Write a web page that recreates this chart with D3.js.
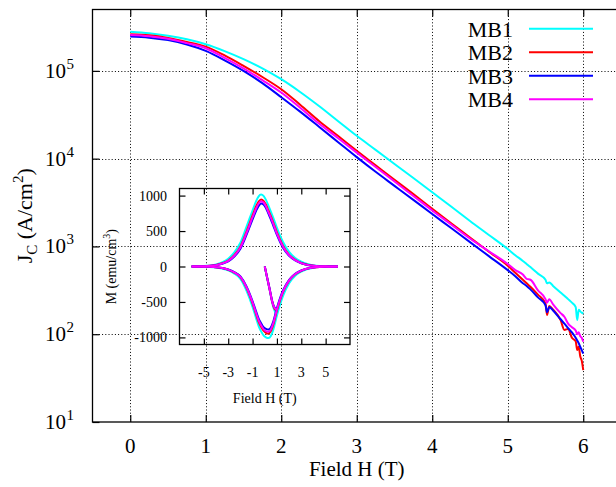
<!DOCTYPE html>
<html><head><meta charset="utf-8">
<script src="https://cdn.jsdelivr.net/npm/d3@7/dist/d3.min.js"></script>
<style>
body{margin:0;background:#fff}
svg{display:block}
text{font-family:"Liberation Serif","Times New Roman","DejaVu Serif",serif;fill:#000}
</style>
</head><body>
<div id="chart"></div>
<script>
// ---------- data ----------
const seriesNames = ["MB1", "MB2", "MB3", "MB4"];
const seriesColors = ["#00ffff", "#ff0000", "#0000ff", "#ff00ff"];

const xTicks = [0, 1, 2, 3, 4, 5, 6];
const yTickExponents = [1, 2, 3, 4, 5];

const fieldH = [0.0, 0.25, 0.5, 0.75, 1, 1.25, 1.5, 1.75, 2, 2.25, 2.5, 2.75, 3, 3.25, 3.5, 3.75, 4, 4.25, 4.5, 4.75,
  5, 5.1, 5.2, 5.25, 5.3, 5.4, 5.5, 5.52, 5.55, 5.6, 5.7, 5.75, 5.8, 5.85, 5.9, 5.92, 5.94, 5.96, 5.98, 6.0];
const jcMB1 = [279000, 268000, 251000, 229000, 201000, 168000, 136000, 107000, 80400, 57500, 39800, 26900, 18200, 12600, 8700, 6030, 4140, 2850, 1950, 1350,
  933, 794, 684, 631, 582, 490, 417, 380, 389, 355, 299, 275, 251, 229, 204, 145, 190, 182, 176, 172];
const jcMB2 = [262000, 254000, 237000, 214000, 189000, 150000, 114000, 85100, 61700, 41200, 26900, 18200, 12300, 8410, 5750, 3940, 2690, 1840, 1260, 871,
  603, 501, 417, 380, 347, 282, 224, 166, 209, 191, 145, 112, 115, 91, 83, 66, 72, 56, 50, 39];
const jcMB3 = [246000, 239000, 224000, 200000, 169000, 132000, 100000, 72400, 50100, 34300, 23100, 15500, 10400, 7080, 4900, 3390, 2340, 1620, 1120, 776,
  537, 457, 380, 355, 324, 263, 214, 178, 204, 186, 148, 132, 117, 105, 91, 85, 79, 72, 66, 60];
const jcMB4 = [256000, 248000, 232000, 207000, 181000, 141000, 107000, 78500, 56600, 38000, 25100, 17200, 11700, 8040, 5500, 3760, 2570, 1780, 1230, 881,
  631, 537, 479, 427, 417, 316, 251, 229, 251, 219, 174, 158, 132, 120, 110, 100, 105, 95, 91, 82];

// inset: magnetisation loops
const insetXTicks = [-5, -3, -1, 1, 3, 5];
const insetYTicks = [-1000, -500, 0, 500, 1000];
const loopH = [-6, -5, -4.5, -4, -3.5, -3, -2.5, -2, -1.5, -1, -0.7, -0.5, -0.3, -0.1, 0.1, 0.3, 0.5, 0.7, 1, 1.5, 2, 2.5, 3, 3.5, 4, 4.5, 5, 6];
const upperMB1 = [0, 6, 14, 28, 58, 110, 200, 335, 560, 790, 925, 990, 1015, 995, 940, 860, 775, 685, 545, 345, 205, 120, 68, 35, 16, 7, 3, 0];
const upperMB2 = [0, 4, 10, 20, 45, 85, 160, 280, 490, 720, 850, 915, 945, 925, 870, 790, 710, 620, 480, 290, 165, 95, 50, 25, 10, 4, 2, 0];
const upperMB3 = [0, 3, 8, 17, 38, 72, 140, 250, 445, 665, 790, 855, 890, 875, 825, 745, 665, 578, 445, 265, 150, 85, 45, 22, 9, 3, 1, 0];
const upperMB4 = [0, 4, 9, 19, 42, 80, 152, 268, 470, 695, 822, 888, 920, 902, 848, 768, 688, 600, 462, 278, 158, 90, 48, 23, 10, 4, 2, 0];
const lowerMB1 = [0, -3, -6, -14, -30, -55, -100, -175, -340, -570, -735, -840, -915, -970, -1000, -1010, -980, -890, -690, -415, -235, -130, -72, -36, -17, -7, -3, 0];
const lowerMB2 = [0, -2, -4, -10, -22, -45, -85, -150, -300, -520, -680, -780, -850, -905, -935, -945, -910, -820, -620, -360, -200, -110, -60, -30, -14, -6, -3, 0];
const lowerMB3 = [0, -2, -4, -9, -20, -42, -80, -140, -280, -490, -640, -735, -800, -855, -880, -890, -860, -775, -585, -338, -188, -103, -56, -28, -13, -5, -2, 0];
const lowerMB4 = [0, -2, -4, -10, -21, -44, -83, -146, -292, -507, -663, -760, -829, -882, -912, -921, -887, -800, -605, -351, -195, -107, -58, -29, -14, -6, -3, 0];
const virginH = [0, 0.2, 0.4, 0.6, 0.75, 0.9, 1.0];
const virginMB1 = [0, -165, -330, -500, -600, -660, -690];
const virginMB2 = [0, -160, -320, -490, -575, -615, -620];
const virginMB3 = [0, -158, -315, -480, -560, -590, -585];
const virginMB4 = [0, -160, -320, -485, -565, -600, -605];

const jcSeries = [jcMB1, jcMB2, jcMB3, jcMB4];
const upperSeries = [upperMB1, upperMB2, upperMB3, upperMB4];
const lowerSeries = [lowerMB1, lowerMB2, lowerMB3, lowerMB4];
const virginSeries = [virginMB1, virginMB2, virginMB3, virginMB4];

// ---------- layout ----------
const W = 616, H = 487;
const P = {left: 92.5, right: 621, top: 9.5, bottom: 422};
const I = {left: 179.5, right: 350, top: 188.5, bottom: 344.5};
const FONT = 21, IFONT = 14;

const svg = d3.select("#chart").append("svg").attr("width", W).attr("height", H)
  .attr("font-family", "Liberation Serif, Times New Roman, serif");

const x = d3.scaleLinear().domain([-0.5, 6.5]).range([P.left, P.right]);
const y = d3.scaleLog().domain([10, 5e5]).range([P.bottom, P.top]);
const yTicks = yTickExponents.map(e => Math.pow(10, e));

// grid
const grid = svg.append("g").attr("stroke", "#000").attr("stroke-width", 1).attr("stroke-dasharray", "1,2.2");
grid.selectAll("line.v").data(xTicks).join("line")
  .attr("x1", d => Math.round(x(d)) + 0.5).attr("x2", d => Math.round(x(d)) + 0.5)
  .attr("y1", P.top).attr("y2", P.bottom);
grid.selectAll("line.h").data(yTicks.filter(d => d > 10)).join("line")
  .attr("y1", d => Math.round(y(d)) + 0.5).attr("y2", d => Math.round(y(d)) + 0.5)
  .attr("x1", P.left).attr("x2", P.right);

// axes (inward ticks, mirrored)
function styleAxis(g) {
  g.select(".domain").remove();
  g.selectAll(".tick line").attr("stroke", "#000").attr("stroke-width", 1.2);
  g.selectAll(".tick text").remove();
}
svg.append("g").attr("transform", `translate(0,${P.bottom})`)
  .call(d3.axisBottom(x).tickValues(xTicks).tickSize(-7)).call(styleAxis);
svg.append("g").attr("transform", `translate(0,${P.top})`)
  .call(d3.axisTop(x).tickValues(xTicks).tickSize(-7)).call(styleAxis);
svg.append("g").attr("transform", `translate(${P.left},0)`)
  .call(d3.axisLeft(y).tickValues(yTicks).tickSize(-7)).call(styleAxis);

// x tick labels
svg.append("g").selectAll("text").data(xTicks).join("text")
  .attr("x", d => x(d)).attr("y", 453).attr("text-anchor", "middle")
  .attr("font-size", FONT).text(d => d);
// y tick labels 10^n : base "10" ends at x=66, exponent follows
const ylg = svg.append("g");
ylg.selectAll("text.base").data(yTickExponents).join("text").attr("class", "base")
  .attr("x", 66).attr("y", d => y(Math.pow(10, d)) + 7).attr("text-anchor", "end")
  .attr("font-size", FONT).text("10");
ylg.selectAll("text.exp").data(yTickExponents).join("text").attr("class", "exp")
  .attr("x", 66.5).attr("y", d => y(Math.pow(10, d)) - 2).attr("text-anchor", "start")
  .attr("font-size", 15).text(d => d);

// axis titles
svg.append("text").attr("x", (P.left + P.right) / 2).attr("y", 476).attr("text-anchor", "middle")
  .attr("font-size", FONT).text("Field H (T)");
const yt = svg.append("text").attr("transform", `translate(32,${(P.top + P.bottom) / 2}) rotate(-90)`)
  .attr("font-size", FONT + 1);
yt.append("tspan").text("J");
yt.append("tspan").attr("dy", 5).attr("font-size", 15).text("C");
yt.append("tspan").attr("dy", -5).text(" (A/cm");
yt.append("tspan").attr("dy", -9).attr("font-size", 15).text("2");
yt.append("tspan").attr("dy", 9).text(")");
{
  const w = yt.node().getBBox().width;
  yt.attr("x", -w / 2);
}

// main curves
svg.append("clipPath").attr("id", "mainclip").append("rect")
  .attr("x", P.left).attr("y", P.top).attr("width", P.right - P.left).attr("height", P.bottom - P.top);
const line = d3.line().x((d, i) => x(fieldH[i])).y(d => y(d)).curve(d3.curveMonotoneX);
svg.append("g").attr("clip-path", "url(#mainclip)").selectAll("path").data(jcSeries).join("path")
  .attr("fill", "none").attr("stroke", (d, i) => seriesColors[i]).attr("stroke-width", 2)
  .attr("stroke-linejoin", "round").attr("d", line);

// frame
svg.append("rect").attr("x", P.left).attr("y", P.top).attr("width", P.right - P.left).attr("height", P.bottom - P.top)
  .attr("fill", "none").attr("stroke", "#000").attr("stroke-width", 1.3);

// legend
const leg = svg.append("g");
seriesNames.forEach((name, i) => {
  const cy = 28.7 + i * 23.5;
  leg.append("text").attr("x", 513).attr("y", cy + 8).attr("text-anchor", "end")
    .attr("font-size", FONT + 1).text(name);
  leg.append("line").attr("x1", 529).attr("x2", 593).attr("y1", cy).attr("y2", cy)
    .attr("stroke", seriesColors[i]).attr("stroke-width", 2);
});

// ---------- inset ----------
const xi = d3.scaleLinear().domain([-7, 7]).range([I.left, I.right]);
const yi = d3.scaleLinear().domain([-1100, 1100]).range([I.bottom, I.top]);
const inset = svg.append("g");
inset.append("g").attr("transform", `translate(0,${I.bottom})`)
  .call(d3.axisBottom(xi).tickValues(insetXTicks).tickSize(-6)).call(styleAxis);
inset.append("g").attr("transform", `translate(0,${I.top})`)
  .call(d3.axisTop(xi).tickValues(insetXTicks).tickSize(-6)).call(styleAxis);
inset.append("g").attr("transform", `translate(${I.left},0)`)
  .call(d3.axisLeft(yi).tickValues(insetYTicks).tickSize(-6)).call(styleAxis);
inset.append("g").attr("transform", `translate(${I.right},0)`)
  .call(d3.axisRight(yi).tickValues(insetYTicks).tickSize(-6)).call(styleAxis);

const loopLine = d3.line().x((d, i) => xi(loopH[i])).y(d => yi(d)).curve(d3.curveMonotoneX);
const virginLine = d3.line().x((d, i) => xi(virginH[i])).y(d => yi(d)).curve(d3.curveMonotoneX);
seriesNames.forEach((name, i) => {
  [upperSeries[i], lowerSeries[i]].forEach(arr => {
    inset.append("path").attr("fill", "none").attr("stroke", seriesColors[i]).attr("stroke-width", 2)
      .attr("d", loopLine(arr));
  });
  inset.append("path").attr("fill", "none").attr("stroke", seriesColors[i]).attr("stroke-width", 2)
    .attr("d", virginLine(virginSeries[i]));
});

inset.append("rect").attr("x", I.left).attr("y", I.top).attr("width", I.right - I.left).attr("height", I.bottom - I.top)
  .attr("fill", "none").attr("stroke", "#000").attr("stroke-width", 1.3);

inset.append("g").selectAll("text").data(insetYTicks).join("text")
  .attr("x", 167).attr("y", d => yi(d) + 5).attr("text-anchor", "end").attr("font-size", IFONT).text(d => d);
inset.append("g").selectAll("text").data(insetXTicks).join("text")
  .attr("x", d => xi(d)).attr("y", 377).attr("text-anchor", "middle").attr("font-size", IFONT).text(d => d);
inset.append("text").attr("x", (I.left + I.right) / 2).attr("y", 403).attr("text-anchor", "middle")
  .attr("font-size", IFONT).text("Field H (T)");
const mt = inset.append("text").attr("transform", `translate(116,${(I.top + I.bottom) / 2}) rotate(-90)`)
  .attr("font-size", IFONT);
mt.append("tspan").text("M (emu/cm");
mt.append("tspan").attr("dy", -6).attr("font-size", 10).text("3");
mt.append("tspan").attr("dy", 6).text(")");
{
  const w = mt.node().getBBox().width;
  mt.attr("x", -w / 2);
}
</script>
</body></html>
